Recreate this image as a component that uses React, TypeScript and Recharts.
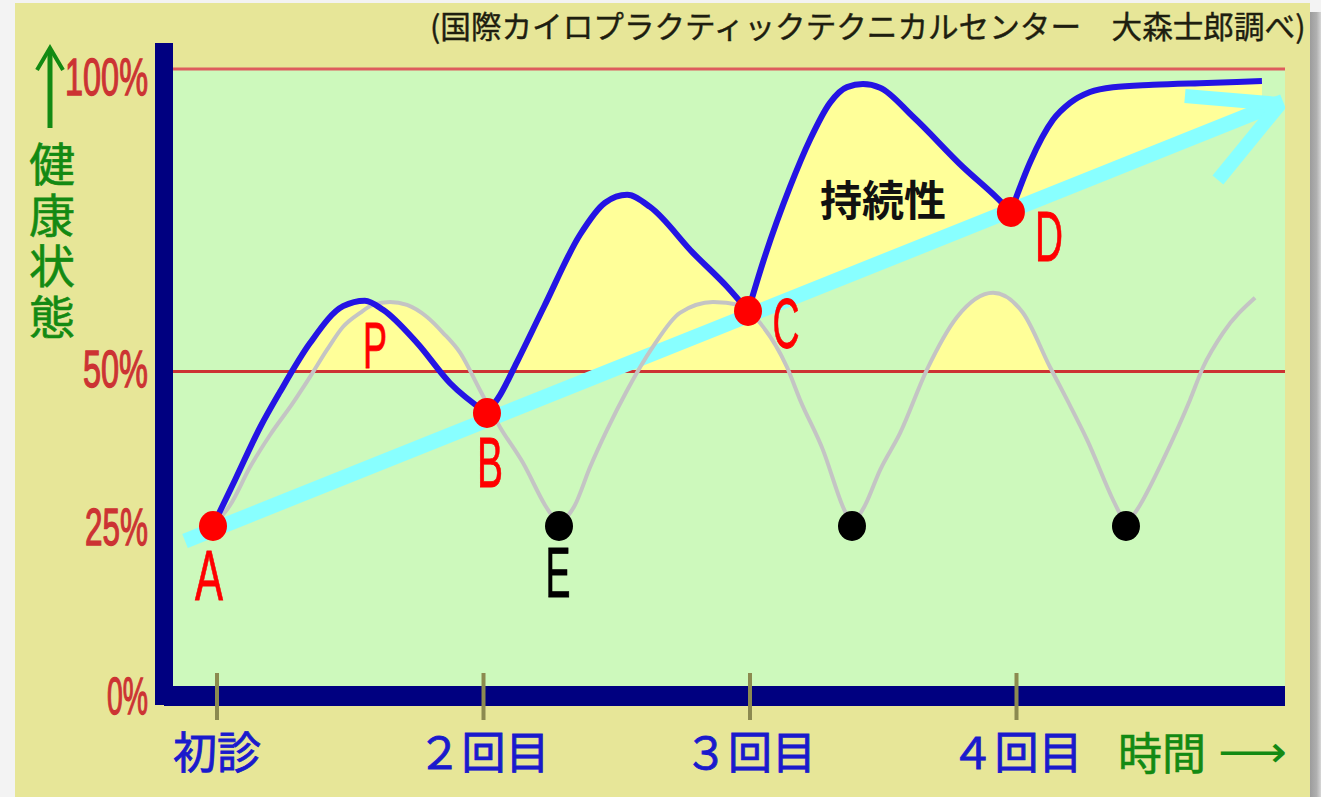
import React from 'react';
import { ComposedChart, Line, Area, Scatter, XAxis, YAxis } from 'recharts';

// ---------- data (x: visit scale, 1 = 初診 ; y: 健康状態 %) ----------
const blueX = [0.985, 1.068, 1.161, 1.236, 1.349, 1.473, 1.555, 1.623, 1.751, 1.874, 2.013, 2.062, 2.126, 2.227, 2.362, 2.456, 2.539, 2.625, 2.786, 2.914, 2.993, 3.049, 3.150, 3.225, 3.300, 3.364, 3.424, 3.488, 3.612, 3.799, 3.927, 3.979, 4.051, 4.137, 4.201, 4.276, 4.362, 4.512, 4.715, 4.921];
const blueY = [24.5, 32.1, 40.7, 46.6, 54.7, 60.8, 61.7, 60.2, 54.7, 48.1, 43.1, 46.1, 51.6, 60.7, 72.6, 77.9, 79.2, 77.2, 69.6, 64.0, 60.0, 68.1, 80.5, 88.3, 94.4, 97.0, 97.5, 96.9, 92.1, 83.8, 78.7, 76.4, 84.6, 91.6, 94.4, 96.2, 97.0, 97.4, 97.7, 98.0];

const grayX = [0.985, 1.049, 1.124, 1.199, 1.285, 1.349, 1.413, 1.473, 1.537, 1.585, 1.649, 1.713, 1.788, 1.848, 1.912, 1.987, 2.062, 2.148, 2.231, 2.283, 2.343, 2.400, 2.463, 2.539, 2.636, 2.737, 2.861, 2.962, 3.038, 3.139, 3.188, 3.274, 3.349, 3.383, 3.432, 3.488, 3.563, 3.664, 3.777, 3.912, 4.024, 4.126, 4.190, 4.265, 4.362, 4.411, 4.463, 4.550, 4.651, 4.700, 4.775, 4.895];
const grayY = [24.5, 27.9, 34.2, 39.5, 44.8, 49.1, 53.6, 57.4, 59.7, 61.0, 61.5, 61.0, 59.0, 56.4, 53.1, 46.9, 40.8, 34.9, 27.9, 24.5, 27.9, 34.2, 40.3, 46.9, 54.1, 59.7, 61.5, 61.0, 58.0, 50.7, 45.3, 37.0, 27.6, 24.5, 27.9, 33.7, 39.8, 50.3, 59.0, 63.0, 59.7, 50.7, 45.3, 38.7, 28.8, 24.5, 27.9, 35.4, 45.3, 50.7, 56.4, 62.2];
const filledArcsEndX = 4.27;

const trendX = [0.88, 5.0];
const trendY = [21.98, 94.64];
const arrowHeadX = [4.632, 4.9885, 4.7558];
const arrowHeadY = [95.54, 94.21, 81.65];

const keyLabels = ['A', 'B', 'C', 'D'];
const keyX = [0.985, 2.013, 2.9925, 3.979];
const keyY = [24.46, 43.14, 60.0, 76.36];

const lowLabels = ['E', '', ''];
const lowX = [2.2833, 3.3827, 4.4108];
const lowY = [24.46, 24.46, 24.46];

const noteTexts = ['P', '持続性'];
const noteX = [1.593, 3.499];
const noteY = [54.21, 78.84];

const xTicks = [1, 2, 3, 4];
const xTickLabels = ['初診', '２回目', '３回目', '４回目'];
const yTicks = [0, 25, 50, 100];
const yTickLabels = ['0%', '25%', '50%', '100%'];
const guideLevels = [100, 50];
const guideStartX = 0.835;
const baseLevel = 50;
const topLevel = 100;

const titleText = '(国際カイロプラクティックテクニカルセンター　大森士郎調べ)';
const yAxisTitle = '健康状態';
const xAxisTitle = '時間';

const X_DOMAIN: [number, number] = [0.8011, 5.0075];
const Y_DOMAIN: [number, number] = [-3.64, 102.81];

// ---------- styles ----------
const C = {
  page: '#f3f3f3',
  beige: '#e7e698',
  green: '#cdf9bc',
  yellow: '#ffff99',
  blue: '#2414e4',
  cyan: '#88ffff',
  gray: '#c4c4c4',
  navy: '#000080',
  red: '#ff0000',
  tickRed: '#cc3333',
  guide: ['#de5c5c', '#cc3333'],
  jpGreen: '#138a13',
  labelBlue: '#1a1acc',
  olive: '#8c8a50',
  title: '#1e1e10',
};
const JP = "'Noto Sans CJK JP', 'Noto Sans CJK SC', sans-serif";
const LAT = "'Liberation Sans', Arial, sans-serif";

const yTickNudge = [22, 4, -2.5, 8];
const yTickWidth = [41, 63, 65, 83];
const letterStyle: Record<string, { dx: number; dy: number; w: number; fs: number; color: string }> = {
  A: { dx: -4, dy: 50, w: 28, fs: 70, color: '#ff0000' },
  B: { dx: 3, dy: 50, w: 26, fs: 70, color: '#ff0000' },
  C: { dx: 38, dy: 13, w: 27, fs: 70, color: '#ff0000' },
  D: { dx: 38, dy: 25, w: 28, fs: 70, color: '#ff0000' },
  E: { dx: -1, dy: 47, w: 25, fs: 70, color: '#000000' },
};

// ---------- tables ----------
type Row = { x: number; y: number };
const toRows = (xs: number[], ys: number[]): Row[] => xs.map((x, i) => ({ x, y: ys[i] }));
// split a curve at its local minima (the sharp turning points) so each piece is smoothed on its own
const splitAtMinima = (rows: Row[]): Row[][] => {
  const cuts = [0];
  for (let i = 1; i < rows.length - 1; i++) {
    if (rows[i].y < rows[i - 1].y && rows[i].y < rows[i + 1].y) cuts.push(i);
  }
  cuts.push(rows.length - 1);
  return cuts.slice(0, -1).map((s, k) => rows.slice(s, cuts[k + 1] + 1));
};

const blueData = toRows(blueX, blueY);
const grayData = toRows(grayX, grayY);
const blueSegments = splitAtMinima(blueData);
const graySegments = splitAtMinima(grayData);
const grayFillSegments = graySegments.map((seg) => seg.filter((d) => d.x <= filledArcsEndX)).filter((seg) => seg.length > 1);
const trendData = toRows(trendX, trendY);
const arrowHeadData = toRows(arrowHeadX, arrowHeadY);
const keyData = keyX.map((x, i) => ({ x, y: keyY[i], label: keyLabels[i] }));
const lowData = lowX.map((x, i) => ({ x, y: lowY[i], label: lowLabels[i] }));
const noteData = noteX.map((x, i) => ({ x, y: noteY[i], label: noteTexts[i] }));
const bgData = [{ x: X_DOMAIN[0], y: topLevel }, { x: X_DOMAIN[1], y: topLevel }];
const below50Data = [{ x: X_DOMAIN[0], y: baseLevel }, { x: X_DOMAIN[1], y: baseLevel }];
const guideData = guideLevels.map((lv) => [{ x: guideStartX, y: lv }, { x: X_DOMAIN[1], y: lv }]);

// ---------- renderers ----------
function XTick(props: any) {
  const { x, y, payload } = props;
  const i = xTicks.indexOf(payload.value);
  return (
    <g>
      <line x1={x} x2={x} y1={y - 23} y2={y + 24} stroke={C.olive} strokeWidth={4} />
      <text
        x={x}
        y={y + 54}
        textAnchor="middle"
        dominantBaseline="central"
        fontFamily={JP}
        fontSize={44}
        fill={C.labelBlue}
        stroke={C.labelBlue}
        strokeWidth={0.8}
      >
        {xTickLabels[i]}
      </text>
    </g>
  );
}

function YTick(props: any) {
  const { x, y, payload } = props;
  const i = yTicks.indexOf(payload.value);
  return (
    <text
      x={x - 16}
      y={y + yTickNudge[i]}
      textAnchor="end"
      dominantBaseline="central"
      fontFamily={LAT}
      fontSize={52}
      fill={C.tickRed}
      stroke={C.tickRed}
      strokeWidth={1.3}
      textLength={yTickWidth[i]}
      lengthAdjust="spacingAndGlyphs"
    >
      {yTickLabels[i]}
    </text>
  );
}

const makeDot = (fill: string) => (props: any) => {
  const { cx, cy, payload } = props;
  const st = letterStyle[payload.label];
  return (
    <g>
      <ellipse cx={cx} cy={cy} rx={14} ry={15} fill={fill} />
      {st ? (
        <text
          x={cx + st.dx - st.w / 2}
          y={cy + st.dy}
          dominantBaseline="central"
          fontFamily={LAT}
          fontSize={st.fs}
          fill={st.color}
          stroke={st.color}
          strokeWidth={0.8}
          textLength={st.w}
          lengthAdjust="spacingAndGlyphs"
        >
          {payload.label}
        </text>
      ) : null}
    </g>
  );
};

const NoteShape = (props: any) => {
  const { cx, cy, payload } = props;
  if (payload.label === 'P') {
    return (
      <text
        x={cx - 12}
        y={cy}
        dominantBaseline="central"
        fontFamily={LAT}
        fontSize={64}
        fill={C.red}
        stroke={C.red}
        strokeWidth={0.8}
        textLength={24}
        lengthAdjust="spacingAndGlyphs"
      >
        {payload.label}
      </text>
    );
  }
  return (
    <text x={cx} y={cy} textAnchor="middle" dominantBaseline="central" fontFamily={JP} fontWeight={700} fontSize={42} fill="#111">
      {payload.label}
    </text>
  );
};

const areaProps = { stroke: 'none', fillOpacity: 1, isAnimationActive: false, dot: false, activeDot: false, baseValue: Y_DOMAIN[0] } as const;
const lineProps = { dot: false, activeDot: false, isAnimationActive: false } as const;

export default function App() {
  return (
    <div style={{ position: 'fixed', left: 0, top: 0, width: 1321, height: 797, background: C.page, overflow: 'hidden' }}>
      <div
        style={{
          position: 'absolute',
          left: 1310,
          top: 12,
          width: 11,
          height: 790,
          background: 'linear-gradient(to right, #9c9c9c, #b0b0b0 60%, #d6d6d6)',
        }}
      />
      <div style={{ position: 'absolute', left: 15, top: 3, width: 1295, height: 794, background: C.beige, overflow: 'hidden' }}>
        <div style={{ position: 'absolute', left: -15, top: -3, width: 1321, height: 797 }}>
          <ComposedChart width={1321} height={797} margin={{ top: 52, right: 36, bottom: 0, left: 0 }}>
            {/* plot background */}
            <Area data={bgData} dataKey="y" type="linear" fill={C.green} {...areaProps} />
            {/* yellow under the blue curve */}
            {blueSegments.map((seg, i) => (
              <Area key={`bf${i}`} data={seg} dataKey="y" type="monotone" fill={C.yellow} {...areaProps} />
            ))}
            {/* green again below the trend line */}
            <Area data={trendData} dataKey="y" type="linear" fill={C.green} {...areaProps} />
            {/* yellow under the gray arcs */}
            {grayFillSegments.map((seg, i) => (
              <Area key={`gf${i}`} data={seg} dataKey="y" type="monotone" fill={C.yellow} {...areaProps} />
            ))}
            {/* green below 50% */}
            <Area data={below50Data} dataKey="y" type="linear" fill={C.green} {...areaProps} />

            {guideData.map((d, i) => (
              <Line key={`g${i}`} data={d} dataKey="y" type="linear" stroke={C.guide[i]} strokeWidth={3} {...lineProps} />
            ))}
            <Line data={trendData} dataKey="y" type="linear" stroke={C.cyan} strokeWidth={15} {...lineProps} />
            <Line data={arrowHeadData} dataKey="y" type="linear" stroke={C.cyan} strokeWidth={14} strokeLinejoin="bevel" {...lineProps} />
            {graySegments.map((seg, i) => (
              <Line key={`gl${i}`} data={seg} dataKey="y" type="monotone" stroke={C.gray} strokeWidth={4} {...lineProps} />
            ))}
            {blueSegments.map((seg, i) => (
              <Line key={`bl${i}`} data={seg} dataKey="y" type="monotone" stroke={C.blue} strokeWidth={6} {...lineProps} />
            ))}

            <Scatter data={lowData} shape={makeDot('#000000')} isAnimationActive={false} />
            <Scatter data={keyData} shape={makeDot(C.red)} isAnimationActive={false} />
            <Scatter data={noteData} shape={NoteShape} isAnimationActive={false} />

            <XAxis
              type="number"
              dataKey="x"
              domain={X_DOMAIN}
              allowDataOverflow
              ticks={xTicks}
              height={101}
              tickSize={0}
              tickMargin={0}
              tickLine={false}
              axisLine={{ stroke: C.navy, strokeWidth: 20 }}
              tick={<XTick />}
              interval={0}
            />
            <YAxis
              type="number"
              dataKey="y"
              domain={Y_DOMAIN}
              allowDataOverflow
              ticks={yTicks}
              width={164}
              tickSize={0}
              tickMargin={0}
              tickLine={false}
              axisLine={{ stroke: C.navy, strokeWidth: 18, strokeLinecap: 'square' }}
              tick={<YTick />}
              interval={0}
            />
          </ComposedChart>
          <svg width={1321} height={797} style={{ position: 'absolute', left: 0, top: 0, pointerEvents: 'none' }}>
            <text x={430} y={25} dominantBaseline="central" fontFamily={JP} fontSize={30.6} fill={C.title} stroke={C.title} strokeWidth={0.4}>
              {titleText}
            </text>
            <path d="M50 128 L50 50" stroke={C.jpGreen} strokeWidth={5} fill="none" />
            <path d="M37 70 L50 48 L63 70" stroke={C.jpGreen} strokeWidth={4} fill="none" />
            <text
              x={52}
              y={141}
              writingMode="vertical-rl"
              fontFamily={JP}
              fontSize={46}
              letterSpacing={5}
              fill={C.jpGreen}
              stroke={C.jpGreen}
              strokeWidth={0.6}
            >
              {yAxisTitle}
            </text>
            <text x={1162} y={751} textAnchor="middle" dominantBaseline="central" fontFamily={JP} fontSize={44} fill={C.jpGreen} stroke={C.jpGreen} strokeWidth={0.6}>
              {xAxisTitle}
            </text>
            <text x={1218} y={751} dominantBaseline="central" fontFamily="'DejaVu Sans', sans-serif" fontSize={44} fill={C.jpGreen} textLength={69} lengthAdjust="spacingAndGlyphs">
              ⟶
            </text>
          </svg>
        </div>
      </div>
    </div>
  );
}
